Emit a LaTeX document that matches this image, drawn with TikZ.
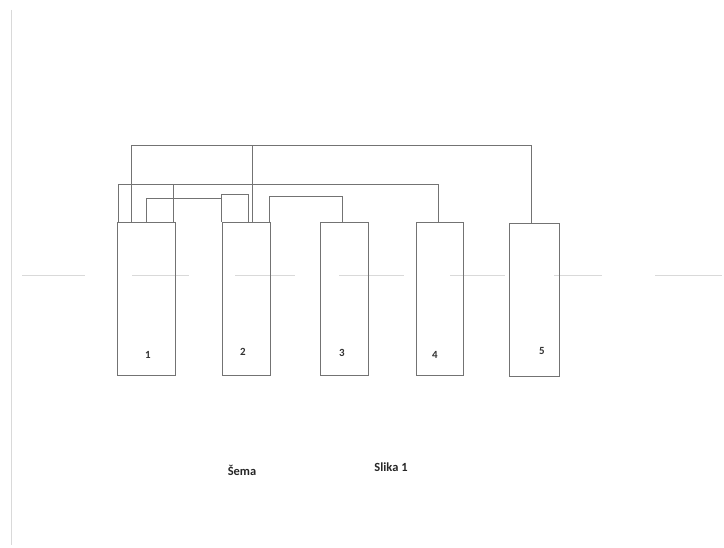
\documentclass[tikz,border=0pt]{standalone}
\usepackage{fontspec}
\setmainfont{Carlito}
\usetikzlibrary{calc}
\begin{document}
\begin{tikzpicture}[x=1bp,y=-1bp,
  boxs/.style={draw=black!55,line width=0.7bp,inner sep=0pt,minimum height=153bp},
  wire/.style={draw=black!55,line width=0.6bp},
  faint/.style={draw=black!15,line width=0.8bp},
  lbl/.style={font=\fontsize{11}{13}\selectfont\bfseries,text=black!80,inner sep=0pt},
  captxt/.style={font=\fontsize{12.5}{15}\selectfont\bfseries,text=black!85,inner sep=0pt}]
\useasboundingbox (0,0) rectangle (724,548);
% scan artefacts
\draw[faint] (11,10) -- (11,545);
\foreach \a/\b in {22/85,132/189,235/295,339/404,450/505,554/602,655/722}
  \draw[faint] (\a,275) -- (\b,275);
% boxes
\node[boxs,minimum width=58bp] (b1) at (146,298.5) {};
\node[boxs,minimum width=48bp] (b2) at (246,298.5) {};
\node[boxs,minimum width=48bp] (b3) at (344,298.5) {};
\node[boxs,minimum width=47bp] (b4) at (439.5,299) {};
\node[boxs,minimum width=50bp] (b5) at (534,299.5) {};
% labels
\node[lbl] (n1) at (148,355) {1};
\node[lbl] (n2) at (243,352) {2};
\node[lbl] (n3) at (342,353) {3};
\node[lbl] (n4) at (435,355) {4};
\node[lbl] (n5) at (542,351) {5};
\node[captxt] (s1) at (242,470) {Šema};
\node[captxt] (s2) at (391,467) {Slika 1};
% levels
\coordinate (h1) at (0,145);
\coordinate (h2) at (0,184);
\coordinate (h3) at (0,198);
\coordinate (h4) at (0,194);
\coordinate (h5) at (0,196);
% attach points
\coordinate (p1a) at ([xshift=15bp]b1.north west);
\coordinate (p1b) at ([xshift=2bp]b1.north west);
\coordinate (p1c) at ([xshift=-2bp]b1.north east);
\coordinate (p1d) at (b1.north);
\coordinate (p2a) at (b2.north west);
\coordinate (p2b) at ([xshift=27bp]b2.north west);
\coordinate (p2c) at ([xshift=31bp]b2.north west);
\coordinate (p2d) at ([xshift=-1bp]b2.north east);
\coordinate (p3) at ([xshift=-2bp]b3.north);
\coordinate (p4) at ([xshift=-1.5bp]b4.north);
\coordinate (p5) at ([xshift=-3bp]b5.north);
% connectors
\draw[wire] (p1a) -- (p1a |- h1) -| (p5);
\draw[wire] (p2c) -- (p2c |- h1);
\draw[wire] (p1b) -- (p1b |- h2) -| (p4);
\draw[wire] (p1c) -- (p1c |- h2);
\draw[wire] (p1d) -- (p1d |- h3) -- (p2a |- h3);
\draw[wire] (p2a) -- (p2a |- h4) -| (p2b);
\draw[wire] (p2d) -- (p2d |- h5) -| (p3);
\end{tikzpicture}
\end{document}
